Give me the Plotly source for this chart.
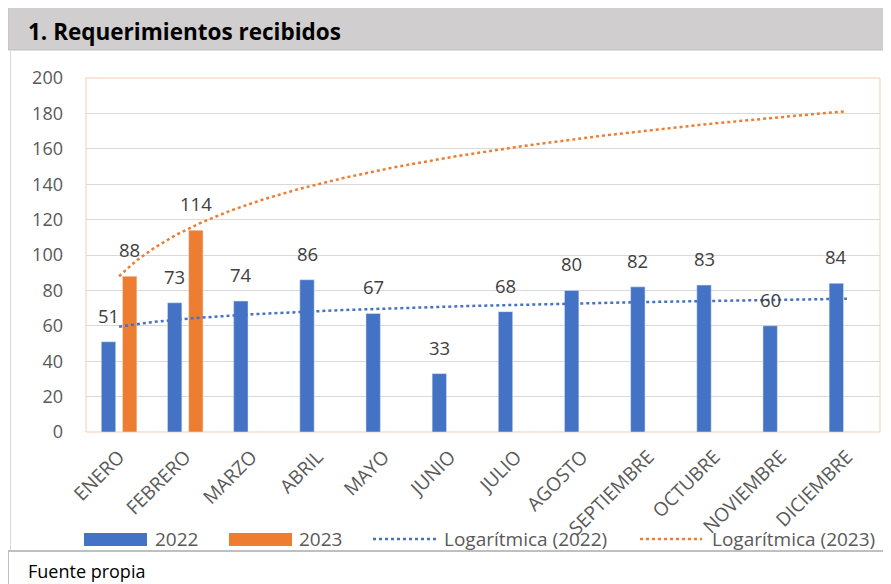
import numpy as np
import plotly.graph_objects as go

# ---- data ----
months = ["ENERO", "FEBRERO", "MARZO", "ABRIL", "MAYO", "JUNIO", "JULIO",
          "AGOSTO", "SEPTIEMBRE", "OCTUBRE", "NOVIEMBRE", "DICIEMBRE"]
values_2022 = [51, 73, 74, 86, 67, 33, 68, 80, 82, 83, 60, 84]
values_2023 = [88, 114, None, None, None, None, None, None, None, None, None, None]
series_names = ["2022", "2023"]
trend_names = ["Logarítmica (2022)", "Logarítmica (2023)"]
y_ticks = [0, 20, 40, 60, 80, 100, 120, 140, 160, 180, 200]
title_text = "1. Requerimientos recibidos"
source_text = "Fuente propia"

BLUE = "#4472C4"
ORANGE = "#ED7D31"
TXT = "#595959"
FONT = "Open Sans"

# page has an 8px body margin; figure occupies window pixels 8..891 x 8..584
OFF = 8
W, H = 891 - OFF, 584 - OFF
RL, RR, RT, RB = 86, 880, 78, 432          # plot area in window pixels
ML, MR, MT, MB = RL - OFF, 891 - RR, RT - OFF, 584 - RB


def px(x):
    return (x - RL) / (RR - RL)


def py(y):
    return (RB - y) / (RB - RT)


BARGAP, GROUPGAP = 0.36, 0.32
slot = (1 - BARGAP) / 2
xpos = np.arange(len(months))


def log_trend(vals):
    pts = [(i + 1, v) for i, v in enumerate(vals) if v is not None]
    xs = np.array([p[0] for p in pts], dtype=float)
    ys = np.array([p[1] for p in pts], dtype=float)
    a, b = np.polyfit(np.log(xs), ys, 1)
    t = np.linspace(1, len(months), 200)
    return t - 1, a * np.log(t) + b


fig = go.Figure()
fig.add_trace(go.Bar(x=xpos, y=values_2022, name=series_names[0], marker_color=BLUE,
                     showlegend=False))
fig.add_trace(go.Bar(x=xpos, y=values_2023, name=series_names[1], marker_color=ORANGE,
                     showlegend=False))

tx, ty = log_trend(values_2022)
fig.add_trace(go.Scatter(x=tx, y=ty, mode="lines", name=trend_names[0],
                         line=dict(color=BLUE, width=2.5, dash="dot"), showlegend=False))
tx, ty = log_trend(values_2023)
fig.add_trace(go.Scatter(x=tx, y=ty, mode="lines", name=trend_names[1],
                         line=dict(color=ORANGE, width=2.5, dash="dot"), showlegend=False))

# data labels
for vals, off in ((values_2022, -slot / 2), (values_2023, slot / 2)):
    for i, v in enumerate(vals):
        if v is None:
            continue
        fig.add_annotation(x=i + off, y=v, xref="x", yref="y", text=str(v),
                           showarrow=False, yanchor="bottom", yshift=12,
                           font=dict(family=FONT, size=18.5, color="#404040"))

shapes = []
# header band
shapes.append(dict(type="rect", xref="paper", yref="paper", x0=px(8), x1=px(893),
                   y0=py(50), y1=py(5), fillcolor="#D0CECE", line=dict(color="#BFBFBF", width=1),
                   layer="below"))
# chart region left border
shapes.append(dict(type="line", xref="paper", yref="paper", x0=px(10.5), x1=px(10.5),
                   y0=py(50), y1=py(551), line=dict(color="#D9D9D9", width=1)))
# footer box
shapes.append(dict(type="line", xref="paper", yref="paper", x0=px(8), x1=px(893),
                   y0=py(551), y1=py(551), line=dict(color="#BFBFBF", width=2)))
shapes.append(dict(type="line", xref="paper", yref="paper", x0=px(8.5), x1=px(8.5),
                   y0=py(551), y1=py(586), line=dict(color="#BFBFBF", width=1)))
# plot area border
shapes.append(dict(type="rect", xref="paper", yref="paper", x0=0, x1=1, y0=0, y1=1,
                   line=dict(color="#F8CBAD", width=1), layer="below"))

# manual legend
ly = py(539)
shapes.append(dict(type="rect", xref="paper", yref="paper", x0=px(84), x1=px(147),
                   y0=py(546), y1=py(533), fillcolor=BLUE, line=dict(width=0)))
shapes.append(dict(type="rect", xref="paper", yref="paper", x0=px(229), x1=px(292),
                   y0=py(546), y1=py(533), fillcolor=ORANGE, line=dict(width=0)))
shapes.append(dict(type="line", xref="paper", yref="paper", x0=px(373), x1=px(437),
                   y0=ly, y1=ly, line=dict(color=BLUE, width=2.5, dash="dot")))
shapes.append(dict(type="line", xref="paper", yref="paper", x0=px(640), x1=px(702),
                   y0=ly, y1=ly, line=dict(color=ORANGE, width=2.5, dash="dot")))

legend_texts = [(153, series_names[0]), (297, series_names[1]),
                (442, trend_names[0]), (710, trend_names[1])]
for lx, t in legend_texts:
    fig.add_annotation(x=px(lx), y=ly, xref="paper", yref="paper", text=t, showarrow=False,
                       xanchor="left", yanchor="middle",
                       font=dict(family=FONT, size=19, color=TXT))

fig.add_annotation(x=px(26), y=py(31), xref="paper", yref="paper",
                   text="<b>" + title_text + "</b>", showarrow=False,
                   xanchor="left", yanchor="middle",
                   font=dict(family=FONT, size=22.5, color="#000000"))
fig.add_annotation(x=px(26), y=py(571), xref="paper", yref="paper",
                   text=source_text, showarrow=False, xanchor="left", yanchor="middle",
                   font=dict(family=FONT, size=18, color="#000000"))

fig.update_layout(
    width=W, height=H,
    margin=dict(l=ML, r=MR, t=MT, b=MB),
    paper_bgcolor="white", plot_bgcolor="white",
    barmode="group", bargap=BARGAP, bargroupgap=GROUPGAP,
    showlegend=False,
    shapes=shapes,
    font=dict(family=FONT, size=18, color=TXT),
)
fig.update_xaxes(range=[-0.5, len(months) - 0.5], tickvals=list(xpos), ticktext=months,
                 tickangle=-45, showgrid=False, zeroline=False, showline=False,
                 ticks="", ticklabelstandoff=9,
                 tickfont=dict(family=FONT, size=19, color=TXT))
fig.update_yaxes(range=[0, 200], tickvals=y_ticks, showgrid=True, gridcolor="#D9D9D9",
                 gridwidth=1, zeroline=False, showline=False, ticks="",
                 ticklabelstandoff=22,
                 tickfont=dict(family=FONT, size=18, color=TXT))

fig.write_html("out.html")
